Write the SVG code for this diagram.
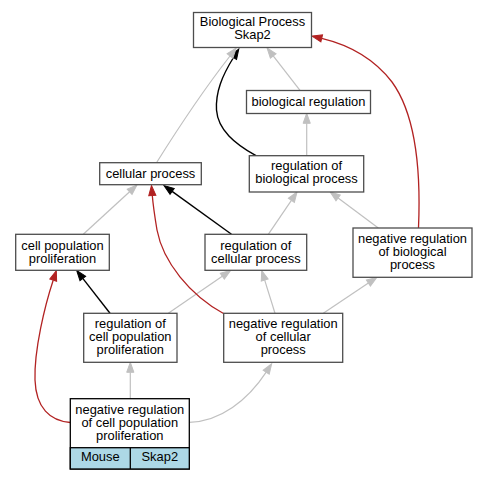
<svg xmlns="http://www.w3.org/2000/svg" width="487" height="480" viewBox="0 0 487 480">
<style>
.n rect{fill:#fff;stroke:#4d4d4d;stroke-width:1.3}
text{font-family:"Liberation Sans",Arial,sans-serif;font-size:12.9px;fill:#000;text-anchor:middle}
.g{fill:none;stroke:#c0c0c0;stroke-width:1.2}
.k{fill:none;stroke:#000;stroke-width:1.4}
.r{fill:none;stroke:#b22222;stroke-width:1.3}
</style>
<defs>
<marker id="ag" markerUnits="userSpaceOnUse" markerWidth="12" markerHeight="10" refX="0" refY="0" viewBox="0 -5 12 10" orient="auto" overflow="visible"><path d="M0,-3.6 L10,0 L0,3.6 z" fill="#c0c0c0" stroke="#c0c0c0" stroke-width="1"/></marker>
<marker id="ak" markerUnits="userSpaceOnUse" markerWidth="12" markerHeight="10" refX="0" refY="0" viewBox="0 -5 12 10" orient="auto" overflow="visible"><path d="M0,-3.6 L10,0 L0,3.6 z" fill="#000" stroke="#000" stroke-width="1"/></marker>
<marker id="ar" markerUnits="userSpaceOnUse" markerWidth="12" markerHeight="10" refX="0" refY="0" viewBox="0 -5 12 10" orient="auto" overflow="visible"><path d="M0,-3.6 L10,0 L0,3.6 z" fill="#b22222" stroke="#b22222" stroke-width="1"/></marker>
</defs>
<g id="edges">
<path class="k" marker-end="url(#ak)" d="M256,155.7 C235,144 218,130 216.5,110 C215.5,92 222,76 233.5,57.5"/>
<path class="g" marker-end="url(#ag)" d="M156.5,162.7 C172,138 205,88 230,56"/>
<path class="g" marker-end="url(#ag)" d="M300,90.3 L273.2,55.9"/>
<path class="g" marker-end="url(#ag)" d="M306.7,155.7 L306.7,123.3"/>
<path class="g" marker-end="url(#ag)" d="M83.3,234.3 L129.6,191.8"/>
<path class="k" marker-end="url(#ak)" d="M231.5,234.3 L172.1,191.4"/>
<path class="g" marker-end="url(#ag)" d="M268.3,234.3 L291.4,200.3"/>
<path class="g" marker-end="url(#ag)" d="M378.3,228 L338.1,197.9"/>
<path class="r" marker-end="url(#ar)" d="M418.5,228 C421,170 416,115 392,82 C372,56 345,44 321.7,38.4"/>
<path class="g" marker-end="url(#ag)" d="M168.3,313.3 L222.3,276.2"/>
<path class="g" marker-end="url(#ag)" d="M275,313.3 L264.7,280.1"/>
<path class="g" marker-end="url(#ag)" d="M323.3,313.3 L368.4,283.1"/>
<path class="r" marker-end="url(#ar)" d="M223.5,313.5 C190,295 163,262 157,230 C154.5,215 153,204 152.3,195.5"/>
<path class="k" marker-end="url(#ak)" d="M110,313.3 L82.8,278.4"/>
<path class="r" marker-end="url(#ar)" d="M70.3,422.5 C50,421 36,408 35,380 C34,350 45,305 53.2,280.2"/>
<path class="g" marker-end="url(#ag)" d="M130.3,398.7 L130.3,372.3"/>
<path class="g" marker-end="url(#ag)" d="M189.3,422.3 C220,422 248,400 266.2,372.2"/>
</g>
<g id="n_bp" class="n"><rect x="193.5" y="12.5" width="118" height="35"/><text x="252.5" y="26">Biological Process</text><text x="252.5" y="39">Skap2</text></g>
<g id="n_bioreg" class="n"><rect x="246.5" y="90.5" width="124" height="23"/><text x="308.5" y="105.5">biological regulation</text></g>
<g id="n_cellproc" class="n"><rect x="99.7" y="162.7" width="101.6" height="22"/><text x="150.5" y="177.5">cellular process</text></g>
<g id="n_regbio" class="n"><rect x="249.3" y="155.7" width="114.4" height="36.3"/><text x="306.5" y="170">regulation of</text><text x="306.5" y="183">biological process</text></g>
<g id="n_cpp" class="n"><rect x="15.7" y="234.3" width="93.6" height="36"/><text x="62.5" y="249.5">cell population</text><text x="62.5" y="262.5">proliferation</text></g>
<g id="n_regcell" class="n"><rect x="205" y="234.3" width="101.7" height="36"/><text x="255.8" y="249.5">regulation of</text><text x="255.8" y="262.5">cellular process</text></g>
<g id="n_negbio" class="n"><rect x="353" y="228" width="119" height="49.3"/><text x="412.5" y="243">negative regulation</text><text x="412.5" y="256">of biological</text><text x="412.5" y="269">process</text></g>
<g id="n_regcpp" class="n"><rect x="83.7" y="313.3" width="93.3" height="49"/><text x="130.3" y="328">regulation of</text><text x="130.3" y="341">cell population</text><text x="130.3" y="354">proliferation</text></g>
<g id="n_negcell" class="n"><rect x="223.7" y="313.3" width="119" height="49"/><text x="283.2" y="328">negative regulation</text><text x="283.2" y="341">of cellular</text><text x="283.2" y="354">process</text></g>
<g id="n_negcpp">
<rect x="70.3" y="398.7" width="119" height="70.3" fill="#fff" stroke="#000" stroke-width="1.3"/>
<rect x="70.3" y="447.7" width="119" height="21.3" fill="#add8e6" stroke="#000" stroke-width="1.3"/>
<line x1="130.3" y1="447.7" x2="130.3" y2="469" stroke="#000" stroke-width="1.3"/>
<text x="129.8" y="413.5">negative regulation</text><text x="129.8" y="426.5">of cell population</text><text x="129.8" y="439.5">proliferation</text>
<text x="100.3" y="461">Mouse</text><text x="159.8" y="461">Skap2</text>
</g>
</svg>
